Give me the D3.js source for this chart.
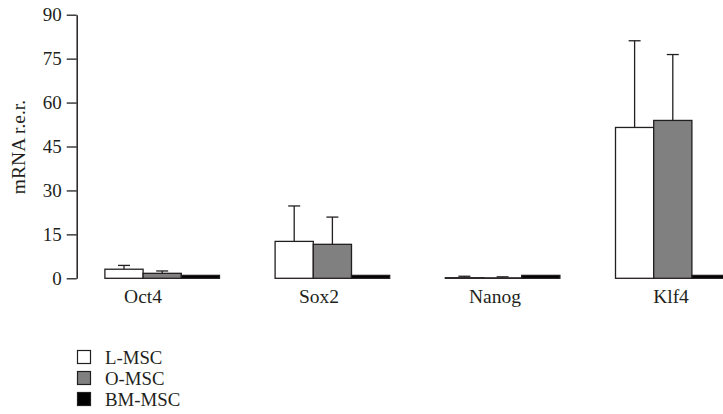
<!DOCTYPE html>
<html>
<head>
<meta charset="utf-8">
<script src="https://cdn.jsdelivr.net/npm/d3@7"></script>
<style>
  html, body { margin: 0; padding: 0; background: #fff; }
  svg { display: block; }
</style>
</head>
<body>
<script>
// ---- data ----
const categories = ["Oct4", "Sox2", "Nanog", "Klf4"];
const seriesNames = ["L-MSC", "O-MSC", "BM-MSC"];
const lmscValues = [3.1, 12.6, 0.2, 51.5];
const lmscErrors = [1.3, 12.1, 0.5, 29.6];
const omscValues = [1.7, 11.6, 0.15, 53.9];
const omscErrors = [0.8, 9.3, 0.35, 22.5];
const bmmscValues = [1.0, 1.0, 1.0, 1.0];
const bmmscErrors = [0, 0, 0, 0];
const yTicks = [0, 15, 30, 45, 60, 75, 90];
const yLabel = "mRNA r.e.r.";
const seriesColors = ["#ffffff", "#808080", "#000000"];

const FONT = '"Liberation Serif", monospace';
const INK = "#231f20";
const W = 723, H = 414;
const svg = d3.select("body").append("svg").attr("width", W).attr("height", H)
  .attr("font-family", FONT);

const seriesValues = [lmscValues, omscValues, bmmscValues];
const seriesErrors = [lmscErrors, omscErrors, bmmscErrors];

const y = d3.scaleLinear().domain([0, 90]).range([278.3, 14.7]);
const x0 = d3.scaleBand().domain(categories).range([104.9, 730.1]).paddingInner(0.3267).paddingOuter(0);
const x1 = d3.scaleBand().domain(seriesNames).range([0, x0.bandwidth()]).padding(0);
const labelX = d3.scalePoint().domain(categories).range([143, 671]);

// y axis
const axisX = 76.7;
const yAxis = d3.axisLeft(y).tickValues(yTicks).tickSize(10).tickPadding(5).tickSizeOuter(0);
const gy = svg.append("g").attr("transform", `translate(${axisX},0)`).call(yAxis);
gy.attr("font-family", FONT).attr("font-size", 19);
gy.select(".domain").attr("stroke", INK).attr("stroke-width", 1.5);
gy.selectAll(".tick line").attr("stroke", INK).attr("stroke-width", 1.3);
gy.selectAll(".tick text").attr("font-family", FONT).attr("font-size", 19).attr("fill", INK);

svg.append("text")
  .attr("transform", `translate(25,147) rotate(-90)`)
  .attr("text-anchor", "middle")
  .attr("font-family", FONT).attr("font-size", 19.5).attr("fill", INK)
  .text(yLabel);

// bars
const data = [];
categories.forEach((c, i) => {
  seriesNames.forEach((s, j) => {
    data.push({ cat: c, ser: s, j: j, v: seriesValues[j][i], e: seriesErrors[j][i] });
  });
});

const g = svg.append("g");
const capW = 12;
data.filter(d => d.e > 0).forEach(d => {
  const cx = x0(d.cat) + x1(d.ser) + x1.bandwidth() / 2;
  g.append("line").attr("x1", cx).attr("x2", cx).attr("y1", y(d.v)).attr("y2", y(d.v + d.e))
    .attr("stroke", INK).attr("stroke-width", 1.3);
  g.append("line").attr("x1", cx - capW / 2).attr("x2", cx + capW / 2).attr("y1", y(d.v + d.e)).attr("y2", y(d.v + d.e))
    .attr("stroke", INK).attr("stroke-width", 1.3);
});

g.selectAll("rect.bar").data(data).join("rect")
  .attr("class", "bar")
  .attr("x", d => x0(d.cat) + x1(d.ser))
  .attr("y", d => y(d.v))
  .attr("width", x1.bandwidth())
  .attr("height", d => y(0) - y(d.v))
  .attr("fill", d => seriesColors[d.j])
  .attr("stroke", INK)
  .attr("stroke-width", 1.3);

// category labels
svg.append("g").selectAll("text").data(categories).join("text")
  .attr("x", d => labelX(d))
  .attr("y", 303)
  .attr("text-anchor", "middle")
  .attr("font-family", FONT).attr("font-size", 19.5).attr("fill", INK)
  .text(d => d);

// legend
const leg = svg.append("g");
seriesNames.forEach((s, j) => {
  const yy = 350.5 + j * 21;
  leg.append("rect").attr("x", 77.5).attr("y", yy).attr("width", 13).attr("height", 13)
    .attr("fill", seriesColors[j]).attr("stroke", INK).attr("stroke-width", 1.2);
  leg.append("text").attr("x", 105).attr("y", yy + 13.5)
    .attr("font-family", FONT).attr("font-size", 18.8).attr("fill", INK)
    .text(s);
});
</script>
</body>
</html>
